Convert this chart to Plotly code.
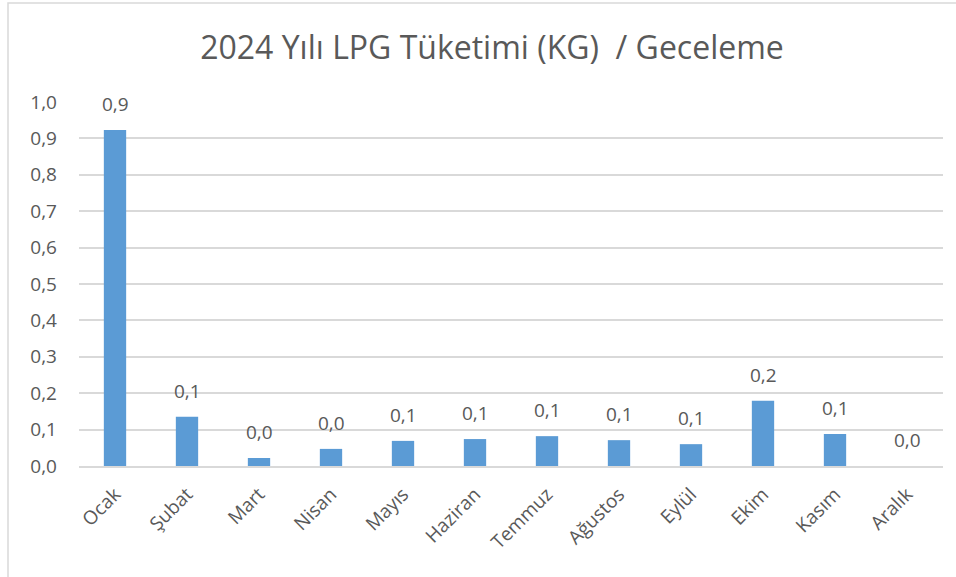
import plotly.graph_objects as go

months = ["Ocak", "Şubat", "Mart", "Nisan", "Mayıs", "Haziran", "Temmuz",
          "Ağustos", "Eylül", "Ekim", "Kasım", "Aralık"]
values = [0.923, 0.135, 0.022, 0.047, 0.069, 0.074, 0.082, 0.071, 0.060, 0.179, 0.088, 0.0]
y_ticks = [0.0, 0.1, 0.2, 0.3, 0.4, 0.5, 0.6, 0.7, 0.8, 0.9, 1.0]

TEXT = "#595959"
FONT = "Open Sans"

fig = go.Figure(go.Bar(
    x=months, y=values,
    marker=dict(color="#5B9BD5", line=dict(width=0)),
    hoverinfo="x+y",
))

# data labels placed above each bar through the axes
for m, v in zip(months, values):
    fig.add_annotation(x=m, y=v, xref="x", yref="y", text=f"{v:.1f}".replace(".", ","),
                       showarrow=False, yanchor="middle", yshift=26,
                       font=dict(size=19, color=TEXT, family=FONT))

L, T, W, H = 79, 102, 864, 364
def px(x): return (x - L) / W
def py(y): return (T + H - y) / H

fig.update_layout(
    width=956, height=577,
    margin=dict(l=L, r=956 - L - W, t=T, b=577 - T - H, autoexpand=False),
    paper_bgcolor="white", plot_bgcolor="white",
    separators=",.",
    bargap=0.69,
    showlegend=False,
    title=dict(text="2024 Yılı LPG Tüketimi (KG)  / Geceleme", x=492 / 956, xanchor="center",
               y=1 - 48 / 577, yanchor="middle",
               font=dict(size=32, color=TEXT, family=FONT)),
    font=dict(family=FONT, color=TEXT),
    xaxis=dict(tickangle=-45, tickfont=dict(size=19, color=TEXT), showgrid=False,
               showline=True, linecolor="#D9D9D9", linewidth=1.5, ticks="",
               ticklabelstandoff=8),
    yaxis=dict(range=[0, 1.0], tickvals=y_ticks, tickformat=".1f",
               tickfont=dict(size=19, color=TEXT), showgrid=True,
               gridcolor="#D9D9D9", gridwidth=1.5, zeroline=False, ticks="",
               ticklabelstandoff=21),
    shapes=[
        dict(type="rect", xref="paper", yref="paper", x0=px(8), x1=px(1000), y0=py(3), y1=py(700),
             line=dict(color="#D9D9D9", width=1.5), fillcolor="rgba(0,0,0,0)", layer="below"),
    ],
)

fig.write_html("out.html", config={"displayModeBar": False},
               post_script="document.body.style.margin='0';")
